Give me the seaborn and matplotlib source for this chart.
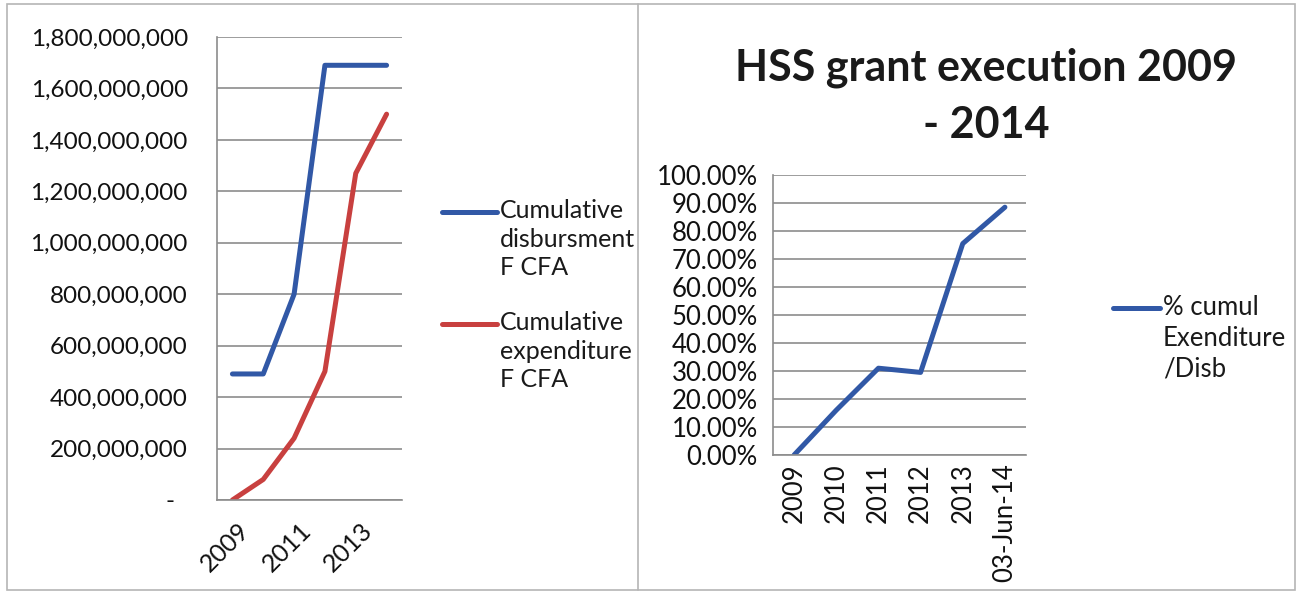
import numpy as np
import pandas as pd
import seaborn as sns
import matplotlib.pyplot as plt
from matplotlib.ticker import FuncFormatter, FixedLocator
from matplotlib.lines import Line2D
from matplotlib.patches import Rectangle
from matplotlib.transforms import ScaledTranslation

# data
years = ['2009', '2010', '2011', '2012', '2013', '2014']
disbursed = [490e6, 490e6, 800e6, 1690e6, 1690e6, 1690e6]
expended = [0, 80e6, 240e6, 500e6, 1270e6, 1500e6]
pct_labels = ['2009', '2010', '2011', '2012', '2013', '03-Jun-14']
pct_values = [0.0, 0.16, 0.31, 0.295, 0.755, 0.885]

sns.set_style('white')
plt.rcParams['font.family'] = ['Lato', 'DejaVu Sans']

BLUE = '#3158a6'
RED = '#c8403f'
GRID = '#8c8c8c'
W, H = 1298, 594

fig = plt.figure(figsize=(W / 100, H / 100), dpi=100)

def style_axes(ax, n, ypad):
    ax.set_xlim(-0.5, n - 0.5)
    ax.xaxis.remove_overlapping_locs = False
    ax.xaxis.set_major_locator(FixedLocator(np.arange(-0.5, n, 1.0)))
    ax.tick_params(axis='x', which='major', length=5, color=GRID, width=1.2, labelbottom=False)
    ax.tick_params(axis='x', which='minor', length=0, pad=6)
    ax.tick_params(axis='y', length=5, color=GRID, width=1.2, pad=ypad)
    ax.grid(axis='y', color=GRID, linewidth=1.2)
    ax.grid(axis='x', visible=False)
    for s in ['top', 'right']:
        ax.spines[s].set_visible(False)
    for s in ['left', 'bottom']:
        ax.spines[s].set_color(GRID)
        ax.spines[s].set_linewidth(1.2)
    ax.set_xlabel('')
    ax.set_ylabel('')
    if ax.get_legend() is not None:
        ax.get_legend().remove()

# Excel-like legend: line next to the first line of a wrapped label
def legend_entry(x0, x1, y, color, label, size=18):
    fig.lines.append(Line2D([x0 / W, x1 / W], [1 - y / H, 1 - y / H], transform=fig.transFigure,
                            color=color, linewidth=3.6, solid_capstyle='round'))
    fig.text((x1 + 3) / W, 1 - (y - 13) / H, label, ha='left', va='top', fontsize=size,
             color='#1a1a1a', linespacing=1.3)

# ---- left chart: cumulative amounts
df_left = pd.DataFrame({'pos': np.arange(len(years)), 'disb': disbursed, 'exp': expended})
ax1 = fig.add_axes([217 / W, 94 / H, 185 / W, 463 / H])
sns.lineplot(data=df_left, x='pos', y='disb', ax=ax1, color=BLUE, linewidth=3.6)
sns.lineplot(data=df_left, x='pos', y='exp', ax=ax1, color=RED, linewidth=3.6)
style_axes(ax1, len(years), ypad=16)
ax1.set_ylim(0, 1.8e9)
ax1.set_yticks(np.arange(0, 1.8e9 + 1, 2e8))
ax1.yaxis.set_major_formatter(FuncFormatter(lambda v, p: '-  ' if v == 0 else f'{v:,.0f}'))
# only every other year is labelled
ax1.set_xticks(np.arange(0, len(years), 2), minor=True)
ax1.set_xticklabels(years[::2], minor=True, rotation=45, ha='right', rotation_mode='anchor')
ax1.tick_params(axis='y', labelsize=17.5, labelcolor='#111111')
ax1.tick_params(axis='x', which='minor', labelsize=18, labelcolor='#111111', pad=13)
for lab in ax1.get_xticklabels(minor=True):
    lab.set_transform(lab.get_transform() + ScaledTranslation(0.05, 0, fig.dpi_scale_trans))
legend_entry(442, 497, 212, BLUE, 'Cumulative\ndisbursment\nF CFA')
legend_entry(442, 497, 324, RED, 'Cumulative\nexpenditure\nF CFA')

# ---- right chart: % execution
df_right = pd.DataFrame({'pos': np.arange(len(pct_labels)), 'pct': pct_values})
ax2 = fig.add_axes([773 / W, 139 / H, 253 / W, 280 / H])
sns.lineplot(data=df_right, x='pos', y='pct', ax=ax2, color=BLUE, linewidth=3.6)
style_axes(ax2, len(pct_labels), ypad=6)
ax2.set_ylim(0, 1.0)
ax2.set_yticks(np.arange(0, 1.0001, 0.1))
ax2.yaxis.set_major_formatter(FuncFormatter(lambda v, p: f'{v * 100:.2f}%'))
ax2.set_xticks(np.arange(len(pct_labels)), minor=True)
ax2.set_xticklabels(pct_labels, minor=True, rotation=90)
ax2.tick_params(axis='both', which='both', labelsize=18.5, labelcolor='#111111')
legend_entry(1113, 1160, 308, BLUE, '% cumul\nExenditure\n/Disb', size=18.5)

fig.text(986 / W, 1 - 96 / H, 'HSS grant execution 2009\n- 2014', ha='center', va='center',
         fontsize=31, fontweight='bold', color='#1a1a1a', linespacing=1.5)

# frame around the two panels
fig.patches.append(Rectangle((7 / W, 4 / H), 1288 / W, 586 / H, transform=fig.transFigure,
                             fill=False, edgecolor='#b5b5b5', linewidth=1.2))
fig.lines.append(Line2D([638 / W, 638 / W], [4 / H, 590 / H], transform=fig.transFigure,
                        color='#b5b5b5', linewidth=1.2))

fig.savefig('out.png', dpi=100)
